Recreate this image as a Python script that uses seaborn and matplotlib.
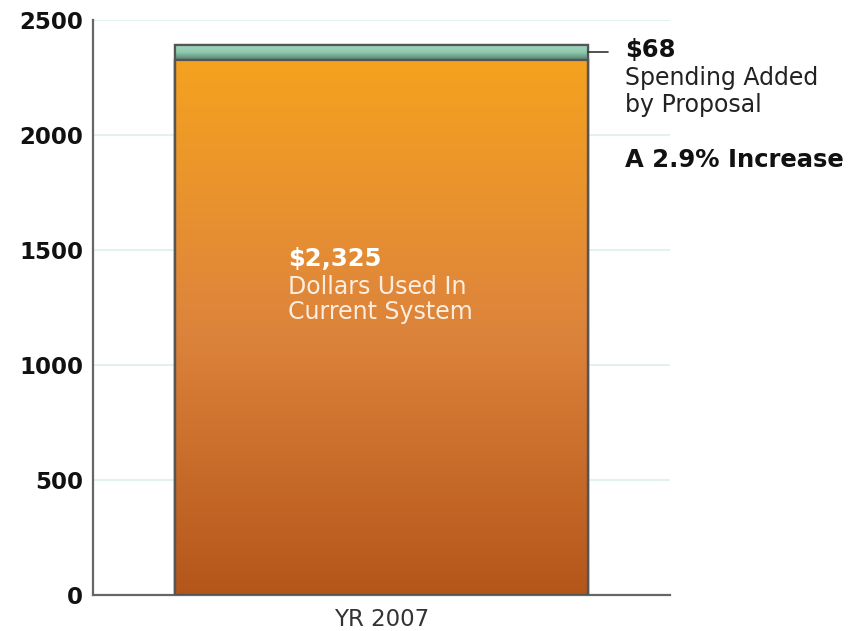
import numpy as np
import pandas as pd
import matplotlib
matplotlib.use("Agg")
import matplotlib.pyplot as plt
import seaborn as sns
from matplotlib.colors import LinearSegmentedColormap

# Data
categories = ["YR 2007"]
current_system = [2325]
added_by_proposal = [68]
y_ticks = [0, 500, 1000, 1500, 2000, 2500]
pct_increase = 2.9

df = pd.DataFrame({"year": categories,
                   "current": current_system,
                   "added": added_by_proposal})
df["total"] = df["current"] + df["added"]

sns.set_theme(style="white")
plt.rcParams["font.family"] = ["DejaVu Sans"]

fig = plt.figure(figsize=(8.54, 6.31), dpi=100)
ax = fig.add_axes([93 / 854, 1 - 595 / 631, (670 - 93) / 854, (595 - 20) / 631])

edge = "#555555"
# stacked bar: total behind, current in front
sns.barplot(data=df, x="year", y="total", ax=ax, color="#7fbfa2",
            width=1.0, edgecolor=edge, linewidth=1.6, zorder=2)
sns.barplot(data=df, x="year", y="current", ax=ax, color="#e08a3a",
            width=1.0, edgecolor=edge, linewidth=1.6, zorder=3)

ax.set_xlim(-0.7, 0.7)
ax.set_ylim(0, 2500)

# gradient fills clipped to the bar shapes
bars = ax.patches
total_bar, current_bar = bars[0], bars[1]
orange = LinearSegmentedColormap.from_list("orange", ["#b4561a", "#dd843c", "#f5a21f"])
green = LinearSegmentedColormap.from_list("green", ["#557f6c", "#8fcab0", "#a2d8bf"])
grad = np.linspace(0, 1, 256).reshape(-1, 1)

x0 = current_bar.get_x()
x1 = x0 + current_bar.get_width()
im = ax.imshow(grad, cmap=orange, origin="lower", aspect="auto",
               extent=[x0, x1, 0, current_system[0]], zorder=3.5)
im.set_clip_path(current_bar)
im2 = ax.imshow(grad, cmap=green, origin="lower", aspect="auto",
                extent=[x0, x1, current_system[0], df["total"][0]], zorder=2.5)
im2.set_clip_path(total_bar)
ax.set_xlim(-0.7, 0.7)
ax.set_ylim(0, 2500)

# outlines on top of gradients
for b in (total_bar, current_bar):
    ax.add_patch(plt.Rectangle((b.get_x(), b.get_y()), b.get_width(), b.get_height(),
                               fill=False, edgecolor=edge, linewidth=1.6, zorder=4))

# grid lines
for t in y_ticks[1:]:
    ax.axhline(t, color="#ddf0ee", linewidth=1.2, zorder=1)

ax.set_yticks(y_ticks)
ax.set_yticklabels([str(t) for t in y_ticks], fontsize=16.5, fontweight="bold", color="#111111")
ax.tick_params(axis="y", length=0, pad=7)
ax.tick_params(axis="x", length=0, pad=9, labelsize=16.5, labelcolor="#333333")
ax.set_xlabel("")
ax.set_ylabel("")
for s in ("top", "right"):
    ax.spines[s].set_visible(False)
for s in ("left", "bottom"):
    ax.spines[s].set_color("#666666")
    ax.spines[s].set_linewidth(1.6)

# annotation for the added amount
mid_added = current_system[0] + added_by_proposal[0] / 2
ax.plot([x1, 0.55], [mid_added, mid_added], color="#333333", linewidth=1.2,
        clip_on=False, zorder=5)
tx = 0.59
ax.text(tx, 2339, f"${added_by_proposal[0]}", fontsize=17.5, fontweight="bold",
        color="#111111", va="baseline", ha="left", clip_on=False)
ax.text(tx, 2217, "Spending Added", fontsize=17, color="#222222",
        va="baseline", ha="left", clip_on=False)
ax.text(tx, 2100, "by Proposal", fontsize=17, color="#222222",
        va="baseline", ha="left", clip_on=False)
ax.text(tx, 1861, f"A {pct_increase}% Increase", fontsize=17.5, fontweight="bold",
        color="#111111", va="baseline", ha="left", clip_on=False)

# label inside the main bar
bx = -0.227
ax.text(bx, 1430, f"${current_system[0]:,}", fontsize=17.5, fontweight="bold",
        color="white", va="baseline", ha="left", zorder=6)
ax.text(bx, 1309, "Dollars Used In", fontsize=17,
        color="#fbeee0", va="baseline", ha="left", zorder=6)
ax.text(bx, 1200, "Current System", fontsize=17,
        color="#fbeee0", va="baseline", ha="left", zorder=6)

fig.savefig("out.png", dpi=100)
